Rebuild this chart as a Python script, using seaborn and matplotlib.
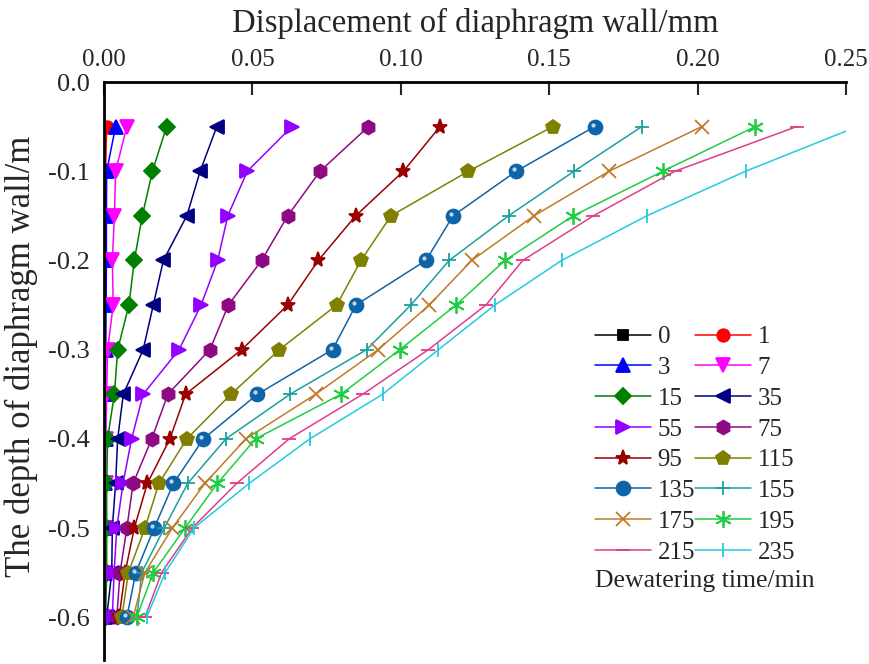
import numpy as np
import pandas as pd
import matplotlib
matplotlib.use('Agg')
import matplotlib.pyplot as plt
from matplotlib.transforms import offset_copy
import seaborn as sns

# Depth of the measuring points (m)
depth = [-0.05, -0.10, -0.15, -0.20, -0.25, -0.30, -0.35, -0.40, -0.45, -0.50, -0.55, -0.60]

# Displacement (mm) for each dewatering time (min)
d0 = [0.0000, 0.0000, 0.0000, 0.0000, 0.0000, 0.0000, 0.0000, 0.0000, 0.0000, 0.0000, 0.0000, 0.0000]
d1 = [0.0009, 0.0005, 0.0004, 0.0004, 0.0003, 0.0003, 0.0003, 0.0003, 0.0002, 0.0002, 0.0002, 0.0002]
d3 = [0.0039, 0.0009, 0.0008, 0.0008, 0.0007, 0.0006, 0.0005, 0.0005, 0.0004, 0.0004, 0.0003, 0.0003]
d7 = [0.0077, 0.0039, 0.0035, 0.0028, 0.0031, 0.0012, 0.0009, 0.0006, 0.0006, 0.0005, 0.0005, 0.0005]
d15 = [0.0211, 0.0163, 0.0129, 0.0102, 0.0084, 0.0046, 0.0035, 0.0012, 0.0009, 0.0009, 0.0009, 0.0005]
d35 = [0.0380, 0.0324, 0.0279, 0.0200, 0.0166, 0.0132, 0.0065, 0.0046, 0.0039, 0.0028, 0.0026, 0.0009]
d55 = [0.0633, 0.0483, 0.0417, 0.0383, 0.0327, 0.0253, 0.0132, 0.0093, 0.0064, 0.0043, 0.0034, 0.0028]
d75 = [0.0891, 0.0728, 0.0619, 0.0531, 0.0419, 0.0357, 0.0215, 0.0161, 0.0098, 0.0077, 0.0054, 0.0043]
d95 = [0.1132, 0.1009, 0.0848, 0.0722, 0.0619, 0.0464, 0.0275, 0.0222, 0.0146, 0.0102, 0.0071, 0.0051]
d115 = [0.1512, 0.1228, 0.0967, 0.0866, 0.0784, 0.0591, 0.0428, 0.0279, 0.0185, 0.0138, 0.0082, 0.0060]
d135 = [0.1653, 0.1389, 0.1176, 0.1085, 0.0849, 0.0770, 0.0517, 0.0335, 0.0234, 0.0169, 0.0107, 0.0077]
d155 = [0.1812, 0.1584, 0.1363, 0.1163, 0.1034, 0.0885, 0.0627, 0.0411, 0.0282, 0.0203, 0.0127, 0.0111]
d175 = [0.2014, 0.1702, 0.1449, 0.1239, 0.1096, 0.0924, 0.0713, 0.0478, 0.0340, 0.0230, 0.0138, 0.0098]
d195 = [0.2194, 0.1883, 0.1581, 0.1351, 0.1186, 0.0997, 0.0799, 0.0511, 0.0382, 0.0273, 0.0166, 0.0110]
d215 = [0.2334, 0.1924, 0.1649, 0.1411, 0.1287, 0.1093, 0.0872, 0.0624, 0.0447, 0.0297, 0.0194, 0.0138]
d235 = [0.2538, 0.2162, 0.1829, 0.1542, 0.1317, 0.1127, 0.0939, 0.0694, 0.0489, 0.0303, 0.0206, 0.0144]

times = ['0', '1', '3', '7', '15', '35', '55', '75', '95', '115', '135', '155', '175', '195', '215', '235']
series = [d0, d1, d3, d7, d15, d35, d55, d75, d95, d115, d135, d155, d175, d195, d215, d235]

# style for each curve: colour, marker, marker size
styles = [
    ('#000000', 's', 7),
    ('#FF0000', 'o', 9),
    ('#0000FF', '^', 10),
    ('#FF00FF', 'v', 10),
    ('#008000', 'D', 8),
    ('#000080', '<', 10),
    ('#9400FF', '>', 10),
    ('#8E0A82', 'h', 10),
    ('#990000', '*', 11),
    ('#808000', 'p', 10),
    ('#0E64A8', 'o', 10),
    ('#1AA0A0', '+', 10),
    ('#C07A28', 'x', 10),
    ('#22CC44', (6, 2, 0), 12),
    ('#E23C8C', '_', 10),
    ('#22CCDD', '|', 10),
]

sns.set_style('white')
plt.rcParams['font.family'] = ['Liberation Serif', 'DejaVu Serif']
plt.rcParams['axes.unicode_minus'] = False

fig = plt.figure(figsize=(8.69, 6.64), dpi=100)
ax = fig.add_axes([0.1197, 0.006, 0.8538, 0.8705])

for t, vals, (col, mk, ms) in zip(times, series, styles):
    df = pd.DataFrame({'disp': vals, 'depth': depth})
    sns.lineplot(data=df, x='disp', y='depth', ax=ax, color=col, marker=mk,
                 markersize=ms, markeredgecolor=col, markeredgewidth=1.3,
                 linewidth=1.1, sort=False, estimator=None, label=t)

# little highlight on the "sphere" markers of the 135 min curve
shine = offset_copy(ax.transData, fig=fig, x=-2, y=2, units='dots')
ax.plot(d135, depth, ls='none', marker='o', ms=3, color='white', alpha=0.75,
        markeredgewidth=0, transform=shine)

h, l = ax.get_legend_handles_labels()
lookup = dict(zip(l, h))
# matplotlib fills legend columns first, reorder so rows read 0 1 / 3 7 / ...
order = times[0::2] + times[1::2]
ax.legend([lookup[k] for k in order], order, ncol=2, loc='upper left',
          bbox_to_anchor=(0.662, 0.578), frameon=False, fontsize=18,
          handlelength=2.25, handletextpad=0.25, columnspacing=0.0,
          labelspacing=0.33, borderpad=0, borderaxespad=0)
ax.text(0.662, 0.137, 'Dewatering time/min', transform=ax.transAxes,
        fontsize=18.5, va='center', ha='left')

ax.set_xlim(0, 0.25)
ax.set_ylim(-0.648, 0)
ax.xaxis.tick_top()
ax.xaxis.set_label_position('top')
ax.set_xticks([0.0, 0.05, 0.10, 0.15, 0.20, 0.25])
ax.set_xticklabels(['0.00', '0.05', '0.10', '0.15', '0.20', '0.25'])
ax.set_yticks([0.0, -0.1, -0.2, -0.3, -0.4, -0.5, -0.6])
ax.set_yticklabels(['0.0', '-0.1', '-0.2', '-0.3', '-0.4', '-0.5', '-0.6'])
ax.tick_params(axis='x', direction='in', length=9, width=1.5, labelsize=18, pad=8)
ax.tick_params(axis='y', direction='out', length=0, labelsize=19, pad=10)
ax.set_xlabel('Displacement of diaphragm wall/mm', fontsize=23.5)
ax.xaxis.set_label_coords(0.5, 1.087)
ax.set_ylabel('The depth of diaphragm wall/m', fontsize=25)
ax.yaxis.set_label_coords(-0.089, 0.525)

for s in ['right', 'bottom']:
    ax.spines[s].set_visible(False)
for s in ['top', 'left']:
    ax.spines[s].set_linewidth(2)
    ax.spines[s].set_color('black')

fig.savefig('out.png', dpi=100)
